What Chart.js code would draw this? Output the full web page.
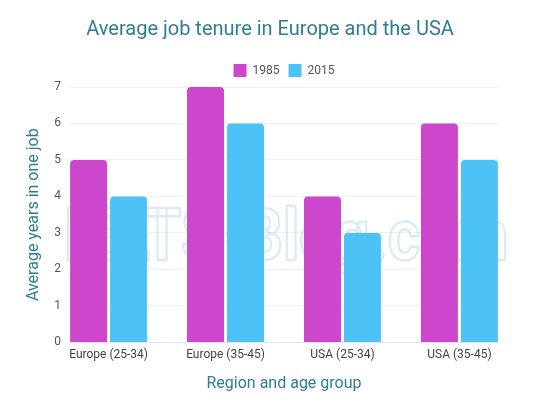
<!DOCTYPE html>
<html>
<head>
<meta charset="utf-8">
<script src="https://cdn.jsdelivr.net/npm/chart.js@4.4.1/dist/chart.umd.min.js"></script>
<style>
  html, body { margin: 0; padding: 0; background: #fff; }
  #wrap { width: 540px; height: 405px; }
</style>
</head>
<body>
<div id="wrap"><canvas id="chart"></canvas></div>
<script>
// values
var groups = ['Europe (25-34)', 'Europe (35-45)', 'USA (25-34)', 'USA (35-45)'];
var years1985 = [5, 7, 4, 6];
var years2015 = [4, 6, 3, 5];
var yTicks = [0, 1, 2, 3, 4, 5, 6, 7];

var teal = '#2f7d94';

function toPoints(vals) {
  return vals.map(function (v, i) { return {x: i, y: v}; });
}

// faint site watermark behind the bars
var watermark = {
  id: 'watermark',
  beforeDatasetsDraw: function (chart) {
    var ctx = chart.ctx;
    var a = chart.chartArea;
    ctx.save();
    ctx.translate((a.left + a.right) / 2 + 2, chart.scales.y.getPixelForValue(2.25));
    ctx.scale(0.86, 1);
    ctx.font = 'bold 72px Roboto';
    ctx.textAlign = 'center';
    ctx.textBaseline = 'alphabetic';
    ctx.strokeStyle = 'rgba(175,210,232,0.45)';
    ctx.lineWidth = 2.5;
    ctx.strokeText('IELTS-Blog.com', 0, 0);
    ctx.restore();
  }
};

// centre the legend over the plot instead of the whole canvas
var legendOverPlot = {
  id: 'legendOverPlot',
  afterLayout: function (chart) {
    chart.legend.left = chart.chartArea.left;
    chart.legend.right = chart.chartArea.right;
  }
};

new Chart(document.getElementById('chart'), {
  type: 'bar',
  data: {
    datasets: [{
      label: '1985',
      data: toPoints(years1985),
      backgroundColor: '#cc47cc',
      borderRadius: 4,
      categoryPercentage: 0.684,
      barPercentage: 0.925
    }, {
      label: '2015',
      data: toPoints(years2015),
      backgroundColor: '#4cc2f7',
      borderRadius: 4,
      categoryPercentage: 0.684,
      barPercentage: 0.925
    }]
  },
  plugins: [watermark, legendOverPlot],
  options: {
    responsive: true,
    maintainAspectRatio: false,
    animation: false,
    layout: { padding: { left: 0, right: 0, bottom: 7 } },
    plugins: {
      title: {
        display: true,
        text: 'Average job tenure in Europe and the USA',
        color: teal,
        font: { family: 'Roboto', size: 20, weight: 'normal' },
        padding: { top: 18, bottom: 13 }
      },
      legend: {
        position: 'top',
        labels: {
          boxWidth: 13,
          boxHeight: 13,
          padding: 9,
          color: '#555',
          font: { family: 'Roboto', size: 12 }
        }
      },
      tooltip: { enabled: false }
    },
    scales: {
      x: {
        type: 'linear',
        min: -0.33,
        max: 3.33,
        offset: false,
        grid: { display: false, drawTicks: false },
        border: { display: false },
        afterBuildTicks: function (scale) {
          scale.ticks = groups.map(function (g, i) { return {value: i}; });
        },
        ticks: {
          color: '#444',
          font: { family: 'Roboto', size: 12 },
          maxRotation: 0,
          padding: 5,
          callback: function (v) { return groups[v]; }
        },
        title: {
          display: true,
          text: 'Region and age group',
          color: teal,
          font: { family: 'Roboto', size: 16 },
          padding: { top: 8 }
        }
      },
      y: {
        min: 0,
        max: 7,
        afterFit: function (scale) { scale.width = 70; },
        afterBuildTicks: function (scale) {
          scale.ticks = yTicks.map(function (v) { return {value: v}; });
        },
        grid: {
          color: function (c) { return c.tick.value === 0 ? '#e4e4e4' : '#f0f0f0'; },
          drawTicks: false
        },
        border: { display: false },
        ticks: {
          color: '#555',
          font: { family: 'Roboto', size: 12 },
          padding: 9
        },
        title: {
          display: true,
          text: 'Average years in one job',
          color: teal,
          font: { family: 'Roboto', size: 16 },
          padding: { top: 24, bottom: 3 }
        }
      },
      // empty right-hand axis that only keeps the plot off the right edge
      yRight: {
        position: 'right',
        afterFit: function (scale) { scale.width = 42; },
        grid: { display: false, drawTicks: false },
        border: { display: false },
        ticks: { display: false }
      }
    }
  }
});
</script>
</body>
</html>
